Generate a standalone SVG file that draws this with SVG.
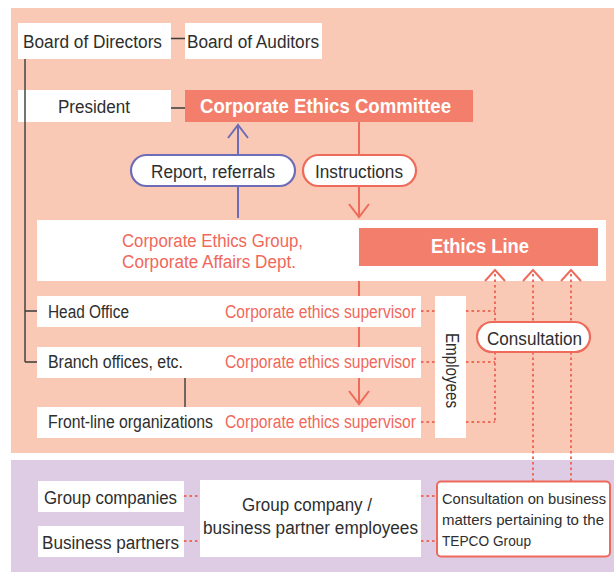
<svg xmlns="http://www.w3.org/2000/svg" width="614" height="572" viewBox="0 0 614 572">
<style>
text{font-family:"Liberation Sans",Arial,sans-serif;font-size:18px;fill:#2e2e2e}
.red{fill:#F0685A}
.wb{fill:#fff;font-weight:bold;font-size:19.5px}
.sm{font-size:15px}
.box{fill:#fff}
.rbox{fill:#F37E6B}
.ln{stroke:#3a3a3a;stroke-width:1.4;fill:none}
.rl{stroke:#EE6B5B;stroke-width:2;fill:none}
.dot{stroke:#EE6B5B;stroke-width:2;stroke-dasharray:2.5 3;fill:none}
.pl{stroke:#6D6DB7;stroke-width:2;fill:none}
</style>
<rect x="11" y="8" width="603" height="445" fill="#F9C9B5"/>
<rect x="11" y="460" width="603" height="112" fill="#DECBE4"/>

<g id="board-directors"><rect class="box" x="18" y="23" width="153" height="36"/><text x="23" y="48" textLength="139" lengthAdjust="spacingAndGlyphs">Board of Directors</text></g>
<g id="board-auditors"><rect class="box" x="185" y="23" width="137" height="36"/><text x="187" y="48" textLength="132" lengthAdjust="spacingAndGlyphs">Board of Auditors</text></g>
<g id="president"><rect class="box" x="18" y="90" width="153" height="32"/><text x="58" y="113" textLength="72" lengthAdjust="spacingAndGlyphs">President</text></g>
<g id="committee"><rect class="rbox" x="185" y="90" width="288" height="32"/><text class="wb" x="200" y="113" textLength="251" lengthAdjust="spacingAndGlyphs">Corporate Ethics Committee</text></g>
<g id="report"><rect x="131" y="155" width="164" height="31" rx="15.5" fill="#fff" stroke="#6D6DB7" stroke-width="2.2"/><text x="151" y="177.5" textLength="124" lengthAdjust="spacingAndGlyphs">Report, referrals</text></g>
<g id="instructions"><rect x="303" y="155" width="113" height="31" rx="15.5" fill="#fff" stroke="#EE6B5B" stroke-width="2.2"/><text x="315" y="177.5" textLength="88" lengthAdjust="spacingAndGlyphs">Instructions</text></g>
<g id="ethics-group"><rect class="box" x="37" y="220" width="569" height="61"/><text class="red" x="122" y="247" textLength="181" lengthAdjust="spacingAndGlyphs">Corporate Ethics Group,</text><text class="red" x="122" y="268" textLength="174" lengthAdjust="spacingAndGlyphs">Corporate Affairs Dept.</text></g>
<g id="ethics-line"><rect class="rbox" x="359" y="228" width="239" height="38"/><text class="wb" x="431" y="253" textLength="98" lengthAdjust="spacingAndGlyphs">Ethics Line</text></g>
<g id="head-office"><rect class="box" x="37" y="296" width="384" height="31"/><text x="48" y="317.5" textLength="81" lengthAdjust="spacingAndGlyphs">Head Office</text><text class="red" x="225" y="317.5" textLength="191" lengthAdjust="spacingAndGlyphs">Corporate ethics supervisor</text></g>
<g id="branch"><rect class="box" x="37" y="347" width="384" height="31"/><text x="48" y="368" textLength="135" lengthAdjust="spacingAndGlyphs">Branch offices, etc.</text><text class="red" x="225" y="368" textLength="191" lengthAdjust="spacingAndGlyphs">Corporate ethics supervisor</text></g>
<g id="front-line"><rect class="box" x="37" y="407" width="384" height="31"/><text x="48" y="428" textLength="165" lengthAdjust="spacingAndGlyphs">Front-line organizations</text><text class="red" x="225" y="428" textLength="191" lengthAdjust="spacingAndGlyphs">Corporate ethics supervisor</text></g>
<g id="employees"><rect class="box" x="435" y="296" width="31" height="142"/><text transform="translate(446,333) rotate(90)" x="0" y="0" textLength="75" lengthAdjust="spacingAndGlyphs">Employees</text></g>
<g id="consultation"><rect x="477" y="322" width="113" height="30" rx="15" fill="#fff" stroke="#EE6B5B" stroke-width="2.2"/><text x="487" y="344.5" textLength="95" lengthAdjust="spacingAndGlyphs">Consultation</text></g>
<g id="group-companies"><rect class="box" x="38" y="481" width="146" height="31"/><text x="44" y="503.5" textLength="133" lengthAdjust="spacingAndGlyphs">Group companies</text></g>
<g id="business-partners"><rect class="box" x="38" y="526" width="146" height="31"/><text x="42" y="548.5" textLength="137" lengthAdjust="spacingAndGlyphs">Business partners</text></g>
<g id="gc-employees"><rect class="box" x="200" y="480" width="221" height="77"/><text x="242" y="510.5" textLength="130" lengthAdjust="spacingAndGlyphs">Group company /</text><text x="203" y="534" textLength="215" lengthAdjust="spacingAndGlyphs">business partner employees</text></g>
<g id="consult-business"><rect x="437" y="481.5" width="173" height="75" rx="4" fill="#fff" stroke="#EE6B5B" stroke-width="2"/><text class="sm" x="442" y="503.5" textLength="164" lengthAdjust="spacingAndGlyphs">Consultation on business</text><text class="sm" x="442" y="524.5" textLength="162" lengthAdjust="spacingAndGlyphs">matters pertaining to the</text><text class="sm" x="442" y="545.5" textLength="89" lengthAdjust="spacingAndGlyphs">TEPCO Group</text></g>

<g id="connectors">
<path class="ln" d="M25,59 V362 M25,311 H37 M25,362 H37 M171,38.5 H185 M171,108 H185 M185,378 V407"/>
<path class="pl" d="M238,218 V186 M238,155 V125 M228,138 L238,125 L248,138"/>
<path class="rl" d="M359,122 V155 M359,186 V217 M349,204 L359,217 L369,204"/>
<path class="rl" d="M359,281 V296 M359,327 V347 M359,378 V404 M349,391 L359,404 L369,391"/>
<path class="dot" d="M421,311 H435 M421,362 H435 M421,422 H435 M466,311 H495 M466,362 H495 M466,422 H495 M495,274 V322 M495,352 V422 M533,274 V322 M533,352 V481 M571,274 V322 M571,352 V481"/>
<path class="rl" d="M485,281 L495,270 L505,281 M523,281 L533,270 L543,281 M561,281 L571,270 L581,281"/>
<path class="dot" d="M184,496 H200 M184,541 H200 M421,496 H436 M421,541 H436"/>
</g>
</svg>
